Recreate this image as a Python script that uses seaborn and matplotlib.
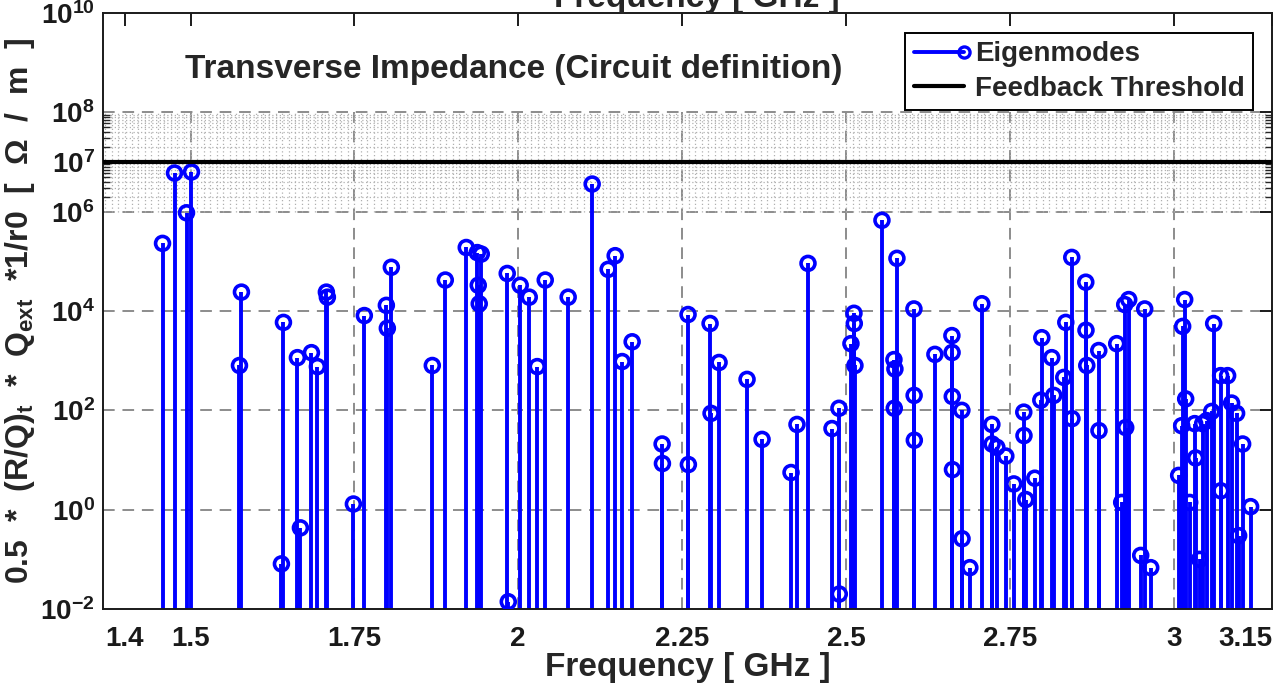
import numpy as np
import pandas as pd
import matplotlib
matplotlib.use("Agg")
import matplotlib.pyplot as plt
import seaborn as sns
from matplotlib.lines import Line2D
from matplotlib.legend_handler import HandlerLine2D
from matplotlib.ticker import FixedLocator, NullFormatter

# eigenmode frequencies [GHz] and 0.5*(R/Q)_t*Q_ext/r0 [Ohm/m]
freq = [1.4573, 1.4756, 1.4939, 1.5015, 1.5747, 1.5777, 1.6387, 1.6418, 1.6631, 1.6677,
        1.6845, 1.6936, 1.7073, 1.7088, 1.7485, 1.7652, 1.7988, 1.8003, 1.8064, 1.8689,
        1.8887, 1.9207, 1.9375, 1.9390, 1.9405, 1.9436, 1.9832, 1.9848, 2.0030, 2.0168,
        2.0290, 2.0412, 2.0762, 2.1128, 2.1372, 2.1479, 2.1585, 2.1738, 2.2195, 2.2200,
        2.2591, 2.2596, 2.2927, 2.2942, 2.3064, 2.3491, 2.3720, 2.4162, 2.4253, 2.4421,
        2.4787, 2.4893, 2.4898, 2.5076, 2.5122, 2.5127, 2.5137, 2.5549, 2.5732, 2.5737,
        2.5747, 2.5778, 2.6037, 2.6040, 2.6043, 2.6357, 2.6616, 2.6619, 2.6622, 2.6625,
        2.6768, 2.6771, 2.6890, 2.7073, 2.7226, 2.7229, 2.7302, 2.7439, 2.7561, 2.7713,
        2.7716, 2.7744, 2.7881, 2.7973, 2.7988, 2.8140, 2.8171, 2.8323, 2.8354, 2.8445,
        2.8448, 2.8659, 2.8662, 2.8674, 2.8857, 2.8860, 2.9131, 2.9207, 2.9268, 2.9253,
        2.9314, 2.9497, 2.9558, 2.9650, 3.0076, 3.0122, 3.0137, 3.0168, 3.0183, 3.0244,
        3.0320, 3.0335, 3.0396, 3.0442, 3.0503, 3.0580, 3.0610, 3.0716, 3.0719, 3.0823,
        3.0884, 3.0960, 3.0991, 3.1052, 3.1174]
impedance = [2.3e5, 6.0e6, 9.5e5, 6.3e6, 800, 2.4e4, 0.081, 5900, 1150, 0.43,
             1450, 760, 2.4e4, 1.9e4, 1.3, 8100, 1.3e4, 4500, 7.6e4, 800,
             4.2e4, 1.9e5, 1.5e5, 3.3e4, 1.4e4, 1.4e5, 5.7e4, 0.014, 3.3e4, 1.9e4,
             760, 4.2e4, 1.9e4, 3.6e6, 6.9e4, 1.3e5, 960, 2400, 21, 8.5,
             8500, 8.1, 5600, 87, 920, 420, 26, 5.6, 52, 9.1e4,
             43, 110, 0.02, 2200, 9000, 5600, 800, 6.7e5, 1050, 110,
             680, 1.15e5, 1.1e4, 200, 25, 1340, 3200, 1460, 190, 6.4,
             100, 0.26, 0.068, 1.4e4, 52, 21, 18, 12, 3.3, 92,
             31, 1.6, 4.3, 160, 2900, 1150, 200, 460, 5900, 1.2e5,
             68, 3.8e4, 4100, 800, 1600, 39, 2200, 1.4, 45, 1.35e4,
             1.7e4, 0.12, 1.1e4, 0.068, 4.9, 49, 4900, 1.7e4, 170, 1.4,
             54, 11, 0.1, 54, 62, 95, 5600, 500, 2.4, 500,
             140, 87, 0.3, 21, 1.15]
threshold = 1e7

x_ticks = [1.4, 1.5, 1.75, 2, 2.25, 2.5, 2.75, 3, 3.15]
x_labels = ['1.4', '1.5', '1.75', '2', '2.25', '2.5', '2.75', '3', '3.15']
y_ticks = [1e-2, 1e0, 1e2, 1e4, 1e6, 1e7, 1e8, 1e10]
y_labels = ['$10^{-2}$', '$10^{0}$', '$10^{2}$', '$10^{4}$', '$10^{6}$',
            '$10^{7}$', '$10^{8}$', '$10^{10}$']

df = pd.DataFrame({'freq': freq, 'Z': impedance})


class HandlerMarkerEnd(HandlerLine2D):
    # matlab style legend entry: line with the marker at its right end
    def create_artists(self, *args, **kwargs):
        arts = super().create_artists(*args, **kwargs)
        for a in arts:
            if a.get_marker() not in (None, 'None', ''):
                a.set_markevery([2])
        return arts


sns.set_style('white')
plt.rcParams['font.family'] = ['Liberation Sans', 'DejaVu Sans']
plt.rcParams['font.weight'] = 'bold'
plt.rcParams['mathtext.fontset'] = 'custom'
plt.rcParams['mathtext.rm'] = 'Liberation Sans:bold'
plt.rcParams['mathtext.it'] = 'Liberation Sans:bold'
plt.rcParams['mathtext.bf'] = 'Liberation Sans:bold'

fig = plt.figure(figsize=(12.76, 6.91), dpi=100)
ax = fig.add_axes([103 / 1276, 1 - 609 / 691, 1169 / 1276, 596 / 691])
ax.set_yscale('log')
ax.set_xlim(1.3665, 3.15)
ax.set_ylim(1e-2, 1e10)

grid_kw = dict(color='#8c8c8c', lw=1.4, linestyle=(0, (6, 4)), zorder=0)
ax.hlines([1e0, 1e2, 1e4, 1e6, 1e8], 1.3665, 3.15, **grid_kw)
ax.vlines([1.5, 1.75, 2, 2.25, 2.5, 2.75, 3], 1e-2, 1e8, **grid_kw)

# dotted minor grid in the band round the threshold
minor_y = [k * 10.0 ** e for e in (6, 7) for k in range(2, 10)]
ax.hlines(minor_y, 1.3665, 3.15, color='#b0b0b0', lw=0.9, linestyle=(0, (1, 2)), zorder=0)
ax.vlines(np.arange(1.37, 3.15, 0.01), 1e6, 1e8, color='#b0b0b0', lw=0.9,
          linestyle=(0, (1, 2)), zorder=0)

# stems
ax.vlines(df['freq'], 1e-2, df['Z'], color='#0000ff', lw=2.8, zorder=2)
sns.scatterplot(data=df, x='freq', y='Z', ax=ax, marker='o', s=100,
                color='none', edgecolor='#0000ff', linewidth=2.6, zorder=3, legend=False)

ax.axhline(threshold, color='black', lw=3, zorder=4)

ax.set_xticks(x_ticks)
ax.set_xticklabels(x_labels)
ax.get_xticklabels()[-1].set_horizontalalignment('right')
ax.yaxis.set_major_locator(FixedLocator(y_ticks))
ax.set_yticklabels(y_labels)
ax.yaxis.set_minor_locator(FixedLocator(minor_y))
ax.yaxis.set_minor_formatter(NullFormatter())
ax.tick_params(axis='both', which='major', direction='in', length=9, width=1.4,
               top=True, right=True, labelsize=20, pad=6, colors='#1a1a1a')
ax.tick_params(axis='x', which='major', pad=12)
ax.tick_params(axis='y', which='minor', direction='in', length=5, width=1,
               left=True, right=True)
for s in ax.spines.values():
    s.set_color('#1a1a1a')
    s.set_linewidth(1.4)

ax.set_xlabel('Frequency [ GHz ]', fontsize=24, fontweight='bold', color='#262626', labelpad=0)
ax.set_ylabel('0.5  *  (R/Q)$_t$  *  Q$_{ext}$  *1/r0  [  Ω  /  m  ]', fontsize=23,
              fontweight='bold', color='#262626', labelpad=2)
fig.text(697 / 1276, 1 - 7 / 691, 'Frequency [ GHz ]', fontsize=24, fontweight='bold',
         color='#262626', ha='center', va='baseline')

ax.text(0.07, 0.905, 'Transverse Impedance (Circuit definition)', transform=ax.transAxes,
        fontsize=24, fontweight='bold', va='center', ha='left')

handles = [Line2D([0], [0], color='#0000ff', lw=2.8, marker='o', ms=8,
                  mfc='none', mec='#0000ff', mew=2.4),
           Line2D([0], [0], color='black', lw=3)]
leg = ax.legend(handles, ['Eigenmodes', 'Feedback Threshold'], loc='upper right',
                bbox_to_anchor=(1 - 19 / 1169, 1 - 20 / 596), borderaxespad=0,
                fancybox=False, framealpha=1, edgecolor='black', fontsize=20,
                handlelength=1.8, handletextpad=0.4, borderpad=0.3, labelspacing=0.3,
                handler_map={Line2D: HandlerMarkerEnd(numpoints=1)})
leg.get_frame().set_linewidth(1.4)
leg.set_zorder(10)

fig.savefig('out.png', dpi=100)
